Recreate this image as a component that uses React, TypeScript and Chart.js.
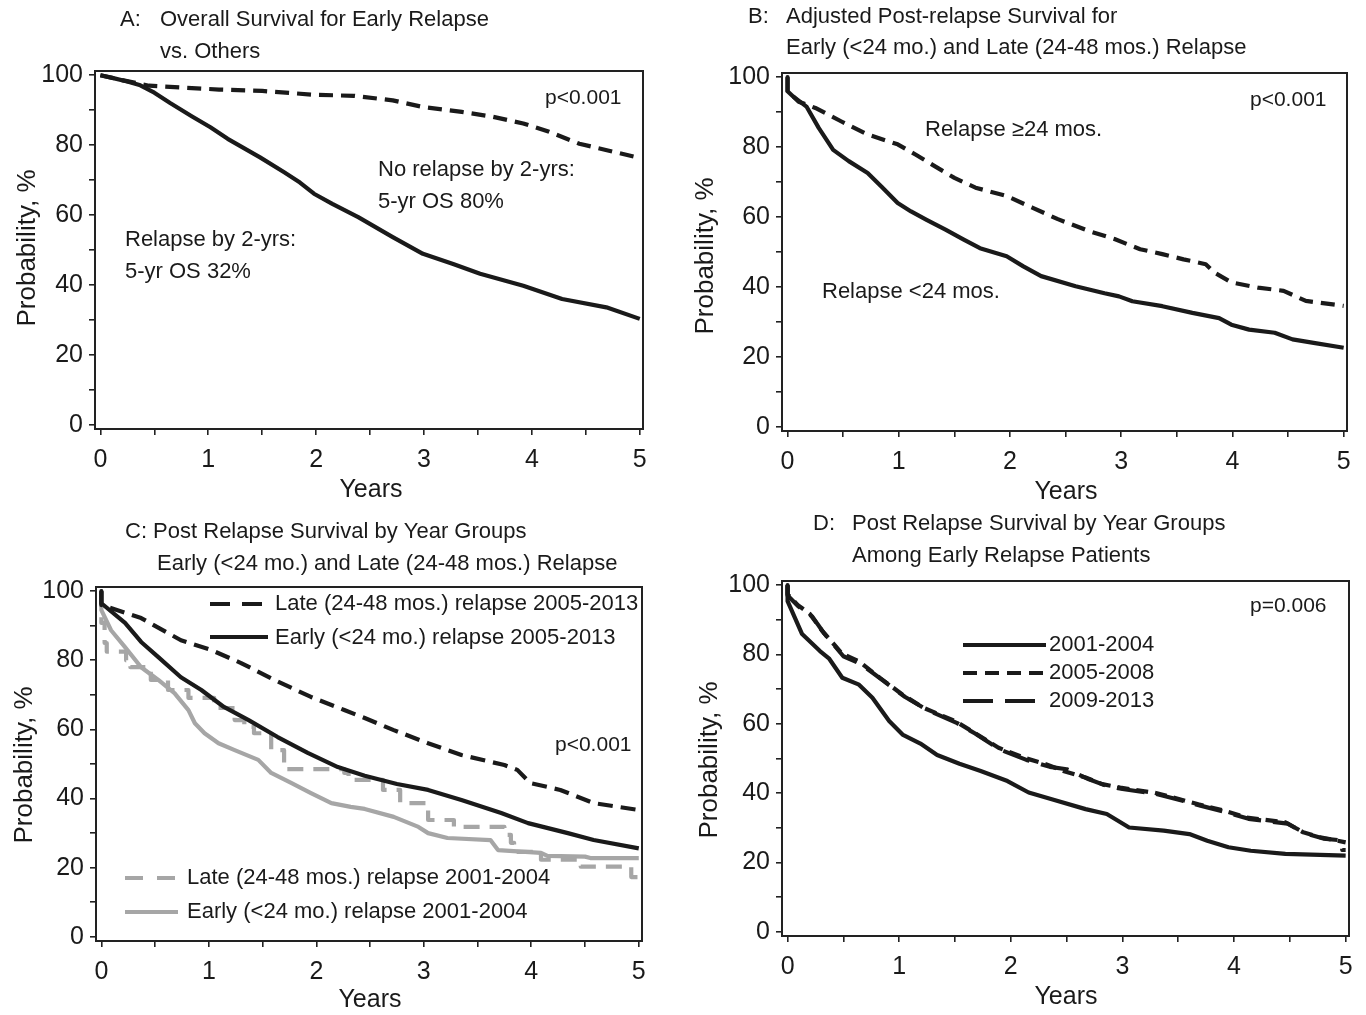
import React, { useEffect, useRef } from "react";
import { Chart, registerables } from "chart.js";

Chart.register(...registerables);

const FONT = "'Liberation Sans', Arial, Helvetica, sans-serif";
const INK = "#1a1a1a";
const GRAY = "#a6a6a6";

// ---------- tick values ----------
const xTickValues = [0, 0.5, 1, 1.5, 2, 2.5, 3, 3.5, 4, 4.5, 5];
const yTickValues = [0, 10, 20, 30, 40, 50, 60, 70, 80, 90, 100];

// ---------- Panel A ----------
const aEarlyYears = [0, 0.1, 0.25, 0.37, 0.5, 0.65, 0.85, 1.02, 1.18, 1.48, 1.7, 1.85, 1.98, 2.15, 2.39, 2.71, 2.99, 3.27, 3.52, 3.92, 4.28, 4.69, 5.0];
const aEarlyProb = [100, 99.3, 98.2, 97.1, 95.0, 92.0, 88.2, 85.1, 81.8, 76.5, 72.3, 69.3, 66.1, 63.2, 59.4, 53.7, 48.9, 46.0, 43.2, 39.8, 36.0, 33.6, 30.3];
const aOtherYears = [0, 0.2, 0.45, 0.8, 1.1, 1.5, 1.98, 2.35, 2.71, 2.99, 3.35, 3.64, 3.92, 4.16, 4.44, 4.77, 5.0];
const aOtherProb = [100, 98.6, 97.0, 96.4, 95.9, 95.5, 94.4, 94.1, 92.8, 90.9, 89.5, 88.1, 86.2, 83.8, 80.4, 78.0, 76.3];

// ---------- Panel B ----------
const bEarlyYears = [0, 0, 0.05, 0.17, 0.28, 0.41, 0.55, 0.72, 0.85, 0.99, 1.11, 1.25, 1.42, 1.58, 1.73, 1.97, 2.12, 2.28, 2.59, 2.85, 2.98, 3.1, 3.37, 3.64, 3.88, 3.99, 4.15, 4.38, 4.54, 4.73, 5.0];
const bEarlyProb = [100, 96, 94.5, 91.6, 85.5, 79.2, 76.0, 72.6, 68.5, 64.0, 61.6, 59.2, 56.4, 53.6, 51.1, 48.8, 45.9, 43.1, 40.2, 38.2, 37.3, 35.9, 34.5, 32.6, 31.1, 29.2, 27.8, 26.9, 25.0, 24.0, 22.6];
const bLateYears = [0, 0, 0.1, 0.25, 0.48, 0.72, 0.99, 1.15, 1.3, 1.5, 1.69, 1.97, 2.2, 2.43, 2.71, 2.94, 3.17, 3.37, 3.56, 3.76, 3.84, 3.99, 4.23, 4.46, 4.66, 5.0];
const bLateProb = [100, 96, 93.0, 91.2, 87.4, 83.6, 80.8, 77.9, 75.0, 71.2, 68.4, 66.0, 62.7, 59.4, 56.0, 53.7, 50.8, 49.4, 47.9, 46.5, 44.1, 41.3, 39.8, 38.9, 36.0, 34.6];

// ---------- Panel C ----------
const cLate0513Years = [0, 0, 0.37, 0.74, 1.02, 1.3, 1.61, 1.95, 2.26, 2.45, 2.72, 3.04, 3.35, 3.75, 3.87, 3.99, 4.27, 4.58, 5.0];
const cLate0513Prob = [100, 96, 92.2, 85.8, 83.0, 79.2, 74.3, 69.4, 65.6, 63.3, 59.8, 56.0, 52.6, 49.7, 48.3, 44.5, 42.5, 38.7, 36.7];
const cEarly0513Years = [0, 0, 0.22, 0.37, 0.53, 0.74, 0.93, 1.14, 1.37, 1.64, 1.92, 2.2, 2.45, 2.75, 3.04, 3.35, 3.72, 3.97, 4.34, 4.58, 5.0];
const cEarly0513Prob = [100, 96.5, 90.8, 85.3, 80.9, 75.1, 71.4, 66.5, 62.7, 57.8, 53.2, 49.1, 46.6, 44.2, 42.5, 39.6, 35.8, 32.9, 30.0, 28.0, 25.6];
const cEarly0104Years = [0, 0, 0.09, 0.22, 0.37, 0.53, 0.68, 0.81, 0.87, 0.96, 1.09, 1.24, 1.46, 1.58, 1.77, 1.95, 2.14, 2.32, 2.45, 2.72, 2.95, 3.04, 3.22, 3.62, 3.69, 4.09, 4.15, 4.5, 4.55, 5.0];
const cEarly0104Prob = [100, 94.5, 88.7, 83.8, 78.0, 74.3, 70.5, 65.6, 61.8, 58.9, 56.0, 54.0, 51.2, 47.4, 44.5, 41.6, 38.7, 37.6, 37.0, 34.7, 31.8, 30.0, 28.6, 28.0, 25.1, 24.3, 23.4, 23.2, 22.8, 22.8];
const cLate0104Years = [0, 0, 0.03, 0.05, 0.23, 0.27, 0.46, 0.62, 0.81, 1.05, 1.24, 1.33, 1.42, 1.58, 1.7, 2.26, 2.3, 2.62, 2.78, 3.04, 3.28, 3.75, 3.81, 3.84, 4.09, 4.46, 4.93, 5.0];
const cLate0104Prob = [100, 90.8, 85.0, 82.5, 80.0, 78.0, 74.3, 71.4, 69.1, 66.2, 62.7, 60.7, 58.9, 54.0, 48.5, 47.4, 45.4, 42.5, 38.7, 33.8, 31.8, 29.5, 27.2, 24.6, 22.3, 20.3, 17.3, 17.3];

// ---------- Panel D ----------
const d0104Years = [0, 0, 0.13, 0.29, 0.37, 0.49, 0.64, 0.76, 0.91, 1.03, 1.19, 1.34, 1.54, 1.73, 1.97, 2.16, 2.39, 2.67, 2.86, 3.06, 3.37, 3.6, 3.76, 3.95, 4.15, 4.46, 5.0];
const d0104Prob = [100, 95.4, 85.9, 81.0, 78.9, 73.3, 71.3, 67.5, 60.8, 56.9, 54.3, 51.0, 48.5, 46.4, 43.5, 40.2, 38.0, 35.4, 34.0, 30.1, 29.2, 28.2, 26.3, 24.4, 23.4, 22.5, 22.0];
const d0508Years = [0, 0, 0.09, 0.2, 0.31, 0.49, 0.64, 0.83, 1.03, 1.22, 1.5, 1.65, 1.89, 2.12, 2.32, 2.47, 2.67, 2.82, 2.98, 3.29, 3.45, 3.68, 3.92, 4.11, 4.46, 4.62, 4.77, 5.0];
const d0508Prob = [100, 97.4, 94.3, 91.7, 86.8, 80.2, 78.0, 73.2, 68.4, 64.6, 60.8, 57.9, 53.1, 50.2, 48.3, 46.4, 44.5, 42.6, 41.6, 40.1, 38.8, 36.8, 34.9, 33.0, 31.6, 28.7, 27.3, 25.8];
const d0913Years = [0, 0, 0.1, 0.22, 0.33, 0.5, 0.66, 0.85, 1.05, 1.25, 1.52, 1.68, 1.9, 2.14, 2.35, 2.5, 2.7, 2.85, 3.0, 3.3, 3.47, 3.7, 3.94, 4.13, 4.48, 4.64, 4.8, 4.96, 4.97, 5.0];
const d0913Prob = [100, 97.0, 93.8, 91.0, 86.0, 79.5, 77.2, 72.6, 67.8, 64.0, 60.2, 57.2, 52.6, 49.6, 47.6, 46.9, 44.0, 42.2, 41.2, 39.8, 38.4, 36.4, 34.4, 32.6, 31.2, 28.4, 26.9, 26.4, 23.6, 23.6];

const pts = (xs: number[], ys: number[]) => xs.map((x, i) => ({ x, y: ys[i] }));

type Txt = { text: string; x: number; y: number; size?: number; align?: CanvasTextAlign; rotate?: number };
type Seg = { x1: number; y1: number; x2: number; y2: number; color: string; dash: number[]; width: number };
type Box = { l: number; t: number; r: number; b: number };
type PanelSpec = { box: Box; datasets: any[]; texts: Txt[]; segs: Seg[] };

const LW = 4.2;

const line = (data: { x: number; y: number }[], color: string, dash: number[], stepped: boolean | "before" = false) => ({
  data,
  borderColor: color,
  borderWidth: LW,
  borderDash: dash,
  borderCapStyle: "butt",
  borderJoinStyle: "round",
  pointRadius: 0,
  fill: false,
  tension: 0,
  stepped,
});

const TITLE_Y = 26; // Probability title size
const YEARS = 25;

const panels: PanelSpec[] = [
  {
    box: { l: 95, t: 71, r: 643, b: 429 },
    datasets: [
      line(pts(aEarlyYears, aEarlyProb), INK, []),
      line(pts(aOtherYears, aOtherProb), INK, [14, 8]),
    ],
    texts: [
      { text: "A:", x: 120, y: 20 },
      { text: "Overall Survival for Early Relapse", x: 160, y: 20 },
      { text: "vs. Others", x: 160, y: 52 },
      { text: "p<0.001", x: 545, y: 98, size: 21 },
      { text: "No relapse by 2-yrs:", x: 378, y: 170 },
      { text: "5-yr OS 80%", x: 378, y: 202 },
      { text: "Relapse by 2-yrs:", x: 125, y: 240 },
      { text: "5-yr OS 32%", x: 125, y: 272 },
      { text: "Probability, %", x: 28, y: 248, size: TITLE_Y, align: "center", rotate: -Math.PI / 2 },
      { text: "Years", x: 371, y: 490, size: YEARS, align: "center" },
    ],
    segs: [],
  },
  {
    box: { l: 782, t: 73, r: 1347, b: 431 },
    datasets: [
      line(pts(bEarlyYears, bEarlyProb), INK, []),
      line(pts(bLateYears, bLateProb), INK, [14, 8]),
    ],
    texts: [
      { text: "B:", x: 748, y: 17 },
      { text: "Adjusted Post-relapse Survival for", x: 786, y: 17 },
      { text: "Early (<24 mo.) and Late (24-48 mos.) Relapse", x: 786, y: 48 },
      { text: "p<0.001", x: 1250, y: 100, size: 21 },
      { text: "Relapse \u226524 mos.", x: 925, y: 130 },
      { text: "Relapse <24 mos.", x: 822, y: 292 },
      { text: "Probability, %", x: 706, y: 256, size: TITLE_Y, align: "center", rotate: -Math.PI / 2 },
      { text: "Years", x: 1066, y: 492, size: YEARS, align: "center" },
    ],
    segs: [],
  },
  {
    box: { l: 96, t: 587, r: 642, b: 941 },
    datasets: [
      line(pts(cLate0513Years, cLate0513Prob), INK, [15, 8]),
      line(pts(cEarly0513Years, cEarly0513Prob), INK, []),
      line(pts(cLate0104Years, cLate0104Prob), GRAY, [16, 10], "before"),
      line(pts(cEarly0104Years, cEarly0104Prob), GRAY, []),
    ],
    texts: [
      { text: "C: Post Relapse Survival by Year Groups", x: 125, y: 532 },
      { text: "Early (<24 mo.) and Late (24-48 mos.) Relapse", x: 157, y: 564 },
      { text: "p<0.001", x: 555, y: 745, size: 21 },
      { text: "Late (24-48 mos.) relapse 2005-2013", x: 275, y: 604 },
      { text: "Early (<24 mo.) relapse 2005-2013", x: 275, y: 638 },
      { text: "Late (24-48 mos.) relapse 2001-2004", x: 187, y: 878 },
      { text: "Early (<24 mo.) relapse 2001-2004", x: 187, y: 912 },
      { text: "Probability, %", x: 25, y: 765, size: TITLE_Y, align: "center", rotate: -Math.PI / 2 },
      { text: "Years", x: 370, y: 1000, size: YEARS, align: "center" },
    ],
    segs: [
      { x1: 210, y1: 604, x2: 268, y2: 604, color: INK, dash: [20, 12], width: LW },
      { x1: 210, y1: 637, x2: 268, y2: 637, color: INK, dash: [], width: LW },
      { x1: 125, y1: 878, x2: 178, y2: 878, color: GRAY, dash: [18, 14], width: LW },
      { x1: 125, y1: 912, x2: 178, y2: 912, color: GRAY, dash: [], width: LW },
    ],
  },
  {
    box: { l: 782, t: 581, r: 1349, b: 936 },
    datasets: [
      line(pts(d0104Years, d0104Prob), INK, []),
      line(pts(d0508Years, d0508Prob), INK, [12, 7]),
      line(pts(d0913Years, d0913Prob), INK, [28, 12]),
    ],
    texts: [
      { text: "D:", x: 813, y: 524 },
      { text: "Post Relapse Survival by Year Groups", x: 852, y: 524 },
      { text: "Among Early Relapse Patients", x: 852, y: 556 },
      { text: "p=0.006", x: 1250, y: 606, size: 21 },
      { text: "2001-2004", x: 1049, y: 645 },
      { text: "2005-2008", x: 1049, y: 673 },
      { text: "2009-2013", x: 1049, y: 701 },
      { text: "Probability, %", x: 710, y: 760, size: TITLE_Y, align: "center", rotate: -Math.PI / 2 },
      { text: "Years", x: 1066, y: 997, size: YEARS, align: "center" },
    ],
    segs: [
      { x1: 963, y1: 645, x2: 1046, y2: 645, color: INK, dash: [], width: LW },
      { x1: 963, y1: 673, x2: 1046, y2: 673, color: INK, dash: [14, 8], width: LW },
      { x1: 963, y1: 701, x2: 1046, y2: 701, color: INK, dash: [30, 12], width: LW },
    ],
  },
];

const W = 1366;
const H = 1015;
const Y_AXIS_W = 80;
const X_AXIS_H = 60;

function makeDecor(spec: PanelSpec) {
  return {
    id: "decor",
    afterDraw(chart: any) {
      const ctx = chart.ctx as CanvasRenderingContext2D;
      const a = chart.chartArea;
      ctx.save();
      ctx.strokeStyle = "#222";
      ctx.lineWidth = 2;
      ctx.setLineDash([]);
      ctx.strokeRect(a.left, a.top, a.right - a.left, a.bottom - a.top);
      for (const s of spec.segs) {
        ctx.beginPath();
        ctx.strokeStyle = s.color;
        ctx.lineWidth = s.width;
        ctx.lineCap = "butt";
        ctx.setLineDash(s.dash);
        ctx.moveTo(s.x1, s.y1);
        ctx.lineTo(s.x2, s.y2);
        ctx.stroke();
      }
      ctx.setLineDash([]);
      for (const t of spec.texts) {
        ctx.save();
        ctx.font = `${t.size || 22}px ${FONT}`;
        ctx.fillStyle = INK;
        ctx.textAlign = t.align || "left";
        ctx.textBaseline = "middle";
        ctx.translate(t.x, t.y);
        if (t.rotate) ctx.rotate(t.rotate);
        ctx.fillText(t.text, 0, 0);
        ctx.restore();
      }
      ctx.restore();
    },
  };
}

function Panel({ spec }: { spec: PanelSpec }) {
  const ref = useRef<HTMLCanvasElement | null>(null);
  useEffect(() => {
    if (!ref.current) return;
    const { box } = spec;
    const chart = new Chart(ref.current, {
      type: "line",
      data: { datasets: spec.datasets },
      plugins: [makeDecor(spec)],
      options: {
        animation: false,
        responsive: false,
        maintainAspectRatio: false,
        layout: {
          autoPadding: false,
          padding: {
            left: box.l - Y_AXIS_W,
            top: box.t,
            right: W - box.r,
            bottom: H - box.b - X_AXIS_H,
          },
        },
        plugins: { legend: { display: false }, tooltip: { enabled: false }, title: { display: false } },
        scales: {
          x: {
            type: "linear",
            min: -0.05,
            max: 5.03,
            afterBuildTicks: (ax: any) => {
              ax.ticks = xTickValues.map((v) => ({ value: v }));
            },
            afterFit: (ax: any) => {
              ax.height = X_AXIS_H;
            },
            ticks: {
              autoSkip: false,
              maxRotation: 0,
              padding: 10,
              color: INK,
              font: { family: FONT, size: 25 },
              callback: (v: any) => (Number(v) % 1 === 0 ? String(v) : ""),
            },
            grid: { drawOnChartArea: false, drawTicks: true, tickLength: 6, color: "#222", lineWidth: 1.6 },
            border: { display: false },
          },
          y: {
            type: "linear",
            min: -1.2,
            max: 101.2,
            afterBuildTicks: (ax: any) => {
              ax.ticks = yTickValues.map((v) => ({ value: v }));
            },
            afterFit: (ax: any) => {
              ax.width = Y_AXIS_W;
            },
            ticks: {
              autoSkip: false,
              padding: 6,
              color: INK,
              font: { family: FONT, size: 25 },
              callback: (v: any) => (Number(v) % 20 === 0 ? String(v) : ""),
            },
            grid: { drawOnChartArea: false, drawTicks: true, tickLength: 6, color: "#222", lineWidth: 1.6 },
            border: { display: false },
          },
        },
      } as any,
    });
    return () => chart.destroy();
  }, [spec]);
  return (
    <canvas
      ref={ref}
      width={W}
      height={H}
      style={{ position: "absolute", left: 0, top: 0, width: W, height: H }}
    />
  );
}

export default function App() {
  return (
    <div style={{ position: "absolute", left: 0, top: 0, width: W, height: H, background: "#fff", overflow: "hidden" }}>
      {panels.map((p, i) => (
        <Panel key={i} spec={p} />
      ))}
    </div>
  );
}
